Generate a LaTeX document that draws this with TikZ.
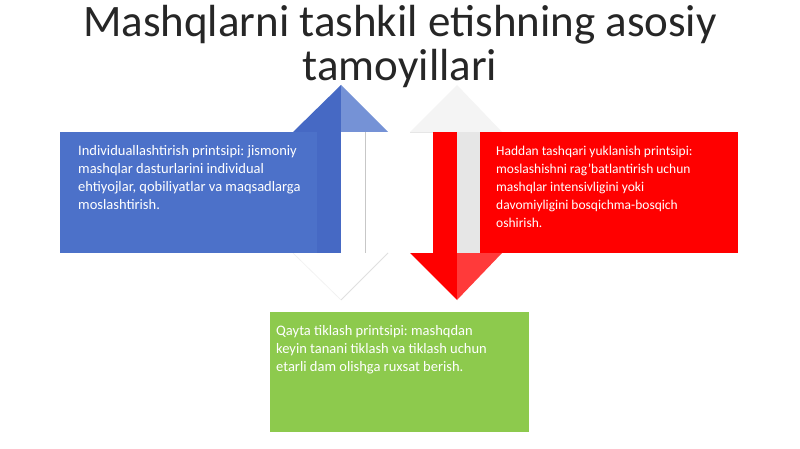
\documentclass[tikz,border=0pt]{standalone}
\usepackage{fontspec}
\setmainfont{Carlito}
\frenchspacing
\definecolor{bluebox}{HTML}{4C71C9}
\definecolor{bluedark}{HTML}{4669C4}
\definecolor{bluelight}{HTML}{7592D6}
\definecolor{redbox}{HTML}{FF0000}
\definecolor{redlight}{HTML}{FF3A3A}
\definecolor{greenbox}{HTML}{8DCA4D}
\definecolor{palegrey}{HTML}{E6E6E6}
\definecolor{faintgrey}{HTML}{F4F4F4}
\begin{document}
\begin{tikzpicture}[x=1pt,y=-1pt,
  boxtext/.style={anchor=north west,align=left,inner sep=0pt,text=white,
    font=\fontsize{14.5}{18}\selectfont\frenchspacing},
  titletext/.style={anchor=north,align=center,inner sep=0pt,text=black!85,
    font=\fontsize{45}{44}\selectfont}]
\useasboundingbox[fill=white] (0,0) rectangle (800,449);
% faint white counter-arrowheads
\fill[faintgrey] (410,132) -- (457,85) -- (502,132) -- cycle;
\draw[palegrey,line width=0.8pt] (410,132) -- (505,132);
\fill[white] (293,253) -- (341,300) -- (388,253) -- cycle;
\draw[black!12,line width=0.8pt] (388,253) -- (341,300);
\draw[black!6,line width=0.6pt] (293,253) -- (341,300);
% blue up arrow with box
\fill[bluebox] (60,132) rectangle (341,253);
\fill[bluedark] (317,132) rectangle (341,253);
\fill[white] (341,132) rectangle (365,253);
\draw[black!22,line width=0.8pt] (365,132) -- (365,253);
\fill[bluedark] (293,132) -- (341,85) -- (341,132) -- cycle;
\fill[bluelight] (341,85) -- (388,132) -- (341,132) -- cycle;
% red down arrow with box
\fill[redbox] (480,132) rectangle (738,253);
\fill[redbox] (433,132) rectangle (457,253);
\fill[palegrey] (457,132) rectangle (480,253);
\fill[redbox] (410,253) -- (457,300) -- (457,253) -- cycle;
\fill[redlight] (457,253) -- (502,253) -- (457,300) -- cycle;
% green box
\fill[greenbox] (270,312) rectangle (529,432);
% texts
\node[boxtext] (blue) at (78,145) {Individuallashtirish printsipi: jismoniy\\mashqlar dasturlarini individual\\ehtiyojlar, qobiliyatlar va maqsadlarga\\moslashtirish.};
\node[boxtext,font=\fontsize{13.5}{18}\selectfont\frenchspacing] (red) at (496,146) {Haddan tashqari yuklanish printsipi:\\moslashishni rag'batlantirish uchun\\mashqlar intensivligini yoki\\davomiyligini bosqichma-bosqich\\oshirish.};
\node[boxtext] (green) at (276,325) {Qayta tiklash printsipi: mashqdan\\keyin tanani tiklash va tiklash uchun\\etarli dam olishga ruxsat berish.};
\node[titletext] (title) at (400,5) {Mashqlarni tashkil etishning asosiy\\tamoyillari};
\end{tikzpicture}
\end{document}
